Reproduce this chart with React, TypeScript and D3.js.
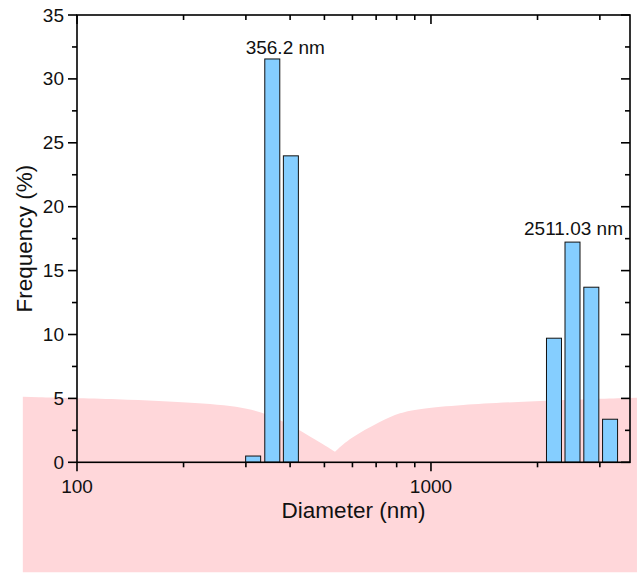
import React, { useEffect } from "react";
import * as d3 from "d3";

// ---- data ----
const binCenters = [314.5, 356.2, 402, 2226, 2511.03, 2838, 3206];
const frequencies = [0.49, 31.56, 23.98, 9.71, 17.23, 13.7, 3.37];
const peakDiameters = [356.2, 2511.03];
const peakLabels = ["356.2 nm", "2511.03 nm"];
const yTicks = [0, 5, 10, 15, 20, 25, 30, 35];
const yMinorTicks = [2.5, 7.5, 12.5, 17.5, 22.5, 27.5, 32.5];
const xMajorTicks = [100, 1000];
const xMinorTicks = [200, 300, 400, 500, 600, 700, 800, 900, 2000, 3000];
// decorative pink background band (diameter nm, frequency %)
const bgLeftX = [70.3, 132, 222, 308, 374.5, 426.6, 486, 535.6];
const bgLeftY = [5.12, 4.96, 4.64, 4.3, 3.31, 2.53, 1.53, 0.83];
const bgRightX = [535.6, 590.5, 717.6, 817.6, 931, 1208, 1784, 3819];
const bgRightY = [0.83, 1.9, 3.18, 3.9, 4.2, 4.49, 4.75, 5.06];
const bgBottom = -8.6;

const W = 637;
const H = 573;
const left = 77;
const right = 630;
const top = 15;
const bottom = 462.3;
const FONT = "Arial, 'Liberation Sans', Helvetica, sans-serif";

export default function App() {
  useEffect(() => {
    document.body.style.margin = "0";
  }, []);

  const x = d3.scaleLog().domain([100, 3650]).range([left, right]);
  const y = d3.scaleLinear().domain([0, 35]).range([bottom, top]);
  const halfW = 1.05;

  const area = d3
    .area<[number, number]>()
    .x((d) => x(d[0]))
    .y0(y(bgBottom))
    .y1((d) => y(d[1]))
    .curve(d3.curveBasis);

  const leftPts = bgLeftX.map((v, i) => [v, bgLeftY[i]] as [number, number]);
  const rightPts = bgRightX.map((v, i) => [v, bgRightY[i]] as [number, number]);

  const labelDx = [13, 1];
  const labelDy = [-5, -7];

  return (
    <svg width={W} height={H} style={{ display: "block" }} fontFamily={FONT}>
      <rect x={0} y={0} width={W} height={H} fill="#fff" />
      <path d={area(leftPts) || ""} fill="#FFD7DA" />
      <path d={area(rightPts) || ""} fill="#FFD7DA" />

      {binCenters.map((c, i) => {
        const x0 = x(c / halfW);
        const x1 = x(c * halfW);
        return (
          <rect
            key={i}
            x={x0}
            y={y(frequencies[i])}
            width={x1 - x0}
            height={y(0) - y(frequencies[i])}
            fill="#85CEFF"
            stroke="#111"
            strokeWidth={1}
          />
        );
      })}

      {peakDiameters.map((p, i) => {
        const idx = binCenters.findIndex((c) => Math.abs(c - p) < 1);
        return (
          <text
            key={i}
            x={x(p) + labelDx[i]}
            y={y(frequencies[idx]) + labelDy[i]}
            textAnchor="middle"
            fontSize={19}
            fill="#111"
          >
            {peakLabels[i]}
          </text>
        );
      })}

      {/* frame */}
      <rect
        x={left}
        y={top}
        width={right - left}
        height={bottom - top}
        fill="none"
        stroke="#000"
        strokeWidth={1.6}
      />

      {/* y ticks */}
      {yTicks.map((t) => (
        <g key={"y" + t}>
          <line x1={left - 9} x2={left} y1={y(t)} y2={y(t)} stroke="#000" strokeWidth={1.6} />
          <line x1={right - 9} x2={right} y1={y(t)} y2={y(t)} stroke="#000" strokeWidth={1.6} />
          <text x={left - 13} y={y(t)} textAnchor="end" dominantBaseline="central" fontSize={19} fill="#111">
            {t}
          </text>
        </g>
      ))}
      {yMinorTicks.map((t) => (
        <g key={"ym" + t}>
          <line x1={left - 5} x2={left} y1={y(t)} y2={y(t)} stroke="#000" strokeWidth={1.6} />
          <line x1={right - 5} x2={right} y1={y(t)} y2={y(t)} stroke="#000" strokeWidth={1.6} />
        </g>
      ))}

      {/* x ticks */}
      {xMajorTicks.map((t) => (
        <g key={"x" + t}>
          <line x1={x(t)} x2={x(t)} y1={bottom} y2={bottom + 9} stroke="#000" strokeWidth={1.6} />
          <line x1={x(t)} x2={x(t)} y1={top} y2={top + 9} stroke="#000" strokeWidth={1.6} />
          <text x={x(t)} y={bottom + 30.5} textAnchor="middle" fontSize={19} fill="#111">
            {t}
          </text>
        </g>
      ))}
      {xMinorTicks.map((t) => (
        <g key={"xm" + t}>
          <line x1={x(t)} x2={x(t)} y1={bottom} y2={bottom + 5} stroke="#000" strokeWidth={1.6} />
          <line x1={x(t)} x2={x(t)} y1={top} y2={top + 5} stroke="#000" strokeWidth={1.6} />
        </g>
      ))}

      <text x={(left + right) / 2} y={518} textAnchor="middle" fontSize={22.5} fill="#111">
        Diameter (nm)
      </text>
      <text
        transform={`translate(32,${(top + bottom) / 2}) rotate(-90)`}
        textAnchor="middle"
        fontSize={22.5}
        fill="#111"
      >
        Frequency (%)
      </text>
    </svg>
  );
}
